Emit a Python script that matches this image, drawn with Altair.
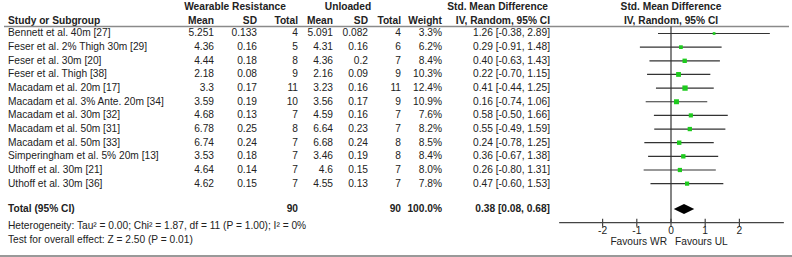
import altair as alt
import pandas as pd

# ---------------- data ----------------
studies = ["Bennett et al. 40m [27]", "Feser et al. 2% Thigh 30m [29]", "Feser et al. 30m [20]",
           "Feser et al. Thigh [38]", "Macadam et al. 20m [17]", "Macadam et al. 3% Ante. 20m [34]",
           "Macadam et al. 30m [32]", "Macadam et al. 50m [31]", "Macadam et al. 50m [33]",
           "Simperingham et al. 5% 20m [13]", "Uthoff et al. 30m [21]", "Uthoff et al. 30m [36]"]
wr_mean = [5.251, 4.36, 4.44, 2.18, 3.3, 3.59, 4.68, 6.78, 6.74, 3.53, 4.64, 4.62]
wr_sd = [0.133, 0.16, 0.18, 0.08, 0.17, 0.19, 0.13, 0.25, 0.24, 0.18, 0.14, 0.15]
wr_n = [4, 5, 8, 9, 11, 10, 7, 8, 7, 7, 7, 7]
ul_mean = [5.091, 4.31, 4.36, 2.16, 3.23, 3.56, 4.59, 6.64, 6.68, 3.46, 4.6, 4.55]
ul_sd = [0.082, 0.16, 0.2, 0.09, 0.16, 0.17, 0.16, 0.23, 0.24, 0.19, 0.15, 0.13]
ul_n = [4, 6, 7, 9, 11, 9, 7, 7, 8, 8, 7, 7]
weight = [3.3, 6.2, 8.4, 10.3, 12.4, 10.9, 7.6, 8.2, 8.5, 8.4, 8.0, 7.8]
smd = [1.26, 0.29, 0.40, 0.22, 0.41, 0.16, 0.58, 0.55, 0.24, 0.36, 0.26, 0.47]
ci_lo = [-0.38, -0.91, -0.63, -0.70, -0.44, -0.74, -0.50, -0.49, -0.78, -0.67, -0.80, -0.60]
ci_hi = [2.89, 1.48, 1.43, 1.15, 1.25, 1.06, 1.66, 1.59, 1.25, 1.38, 1.31, 1.53]

total_wr_n = 90
total_ul_n = 90
total_weight = "100.0%"
total_smd, total_lo, total_hi = 0.38, 0.08, 0.68
heterogeneity = "Heterogeneity: Tau\u00b2 = 0.00; Chi\u00b2 = 1.87, df = 11 (P = 1.00); I\u00b2 = 0%"
overall = "Test for overall effect: Z = 2.50 (P = 0.01)"
tick_values = [-2, -1, 0, 1, 2]
favours_left = "Favours WR"
favours_right = "Favours UL"

df = pd.DataFrame({
    "study": studies,
    "wr_mean": [str(v) for v in wr_mean],
    "wr_sd": [str(v) for v in wr_sd],
    "wr_n": [str(v) for v in wr_n],
    "ul_mean": [str(v) for v in ul_mean],
    "ul_sd": [str(v) for v in ul_sd],
    "ul_n": [str(v) for v in ul_n],
    "weight": weight,
    "weight_txt": [f"{w:.1f}%" for w in weight],
    "smd": smd, "lo": ci_lo, "hi": ci_hi,
    "ci_txt": [f"{s:.2f} [{l:.2f}, {h:.2f}]" for s, l, h in zip(smd, ci_lo, ci_hi)],
    "row": list(range(len(studies))),
})

# ---------------- layout (row units) ----------------
ROW_HDR1, ROW_HDR2, ROW_HLINE = -1.96, -0.94, -0.51
ROW_TOTAL, ROW_HET, ROW_TEST = 12.86, 14.1, 15.13
ROW_AXIS, ROW_TICK_TOP, ROW_TICK_BOT = 13.86, 13.57, 14.15
ROW_TICKLBL, ROW_FAV, ROW_BOTTOM = 14.47, 15.25, 16.3
DIAMOND_H = 0.37
AXIS_LO, AXIS_HI = -3.27, 3.3

FONT = "Liberation Sans"
FS = 10.2
TXT = "#222222"

xscale = alt.Scale(domain=[-19.62, 3.538], nice=False, zero=False)
yscale = alt.Scale(domain=[-2.454, 16.374], nice=False, zero=False, reverse=True)


def one(row, **kw):
    d = {"row": [row]}
    d.update({k: [v] for k, v in kw.items()})
    return pd.DataFrame(d)


def ytxt():
    return alt.Y("row:Q", scale=yscale, axis=None)


def col(data, field, xpx, align, bold=False):
    return alt.Chart(data).mark_text(
        align=align, baseline="middle", font=FONT, fontSize=FS,
        fontWeight="bold" if bold else "normal", color=TXT
    ).encode(x=alt.value(xpx), y=ytxt(), text=alt.Text(f"{field}:N"))


layers = []

# header texts
hdr1 = [("Wearable Resistance", 235, "center"), ("Unloaded", 348, "center"),
        ("Std. Mean Difference", 548, "right"), ("Std. Mean Difference", 671, "center")]
hdr2 = [("Study or Subgroup", 8, "left"), ("Mean", 214, "right"), ("SD", 257, "right"),
        ("Total", 298, "right"), ("Mean", 333, "right"), ("SD", 368, "right"),
        ("Total", 401, "right"), ("Weight", 442, "right"),
        ("IV, Random, 95% CI", 550, "right"), ("IV, Random, 95% CI", 671, "center")]
for t, xp, al in hdr1:
    layers.append(col(one(ROW_HDR1, t=t), "t", xp, al, bold=True))
for t, xp, al in hdr2:
    layers.append(col(one(ROW_HDR2, t=t), "t", xp, al, bold=True))

# header and bottom lines
layers.append(alt.Chart(one(ROW_HLINE)).mark_rule(color="#8a8a8a", strokeWidth=1.6).encode(
    x=alt.value(4), x2=alt.value(789), y=alt.Y("row:Q", scale=yscale, axis=None)))
layers.append(alt.Chart(one(ROW_BOTTOM)).mark_rule(color="#777777", strokeWidth=1.6).encode(
    x=alt.value(0), x2=alt.value(792), y=alt.Y("row:Q", scale=yscale, axis=None)))

# study rows text
for field, xp, al in [("study", 8, "left"), ("wr_mean", 214, "right"), ("wr_sd", 257, "right"),
                      ("wr_n", 298, "right"), ("ul_mean", 333, "right"), ("ul_sd", 368, "right"),
                      ("ul_n", 401, "right"), ("weight_txt", 442, "right"), ("ci_txt", 550, "right")]:
    layers.append(col(df, field, xp, al))

# total row
for t, xp, al in [("Total (95% CI)", 8, "left"), (str(total_wr_n), 298, "right"),
                  (str(total_ul_n), 401, "right"), (total_weight, 442, "right"),
                  (f"{total_smd:.2f} [{total_lo:.2f}, {total_hi:.2f}]", 550, "right")]:
    layers.append(col(one(ROW_TOTAL, t=t), "t", xp, al, bold=True))
layers.append(col(one(ROW_HET, t=heterogeneity), "t", 8, "left"))
layers.append(col(one(ROW_TEST, t=overall), "t", 8, "left"))

# forest: zero line
layers.append(alt.Chart(pd.DataFrame({"x": [0], "r1": [ROW_HLINE], "r2": [ROW_AXIS]})).mark_rule(
    color="#333333", strokeWidth=1.2).encode(
    x=alt.X("x:Q", scale=xscale, axis=None),
    y=alt.Y("r1:Q", scale=yscale, axis=None), y2="r2:Q"))

# CI lines
layers.append(alt.Chart(df).mark_rule(color="#333333", strokeWidth=1.2).encode(
    x=alt.X("lo:Q", scale=xscale, axis=None), x2="hi:Q",
    y=alt.Y("row:Q", scale=yscale, axis=None)))

# squares
layers.append(alt.Chart(df).mark_square(color="#1ecb1e", opacity=1).encode(
    x=alt.X("smd:Q", scale=xscale, axis=None),
    y=alt.Y("row:Q", scale=yscale, axis=None),
    size=alt.Size("weight:Q", scale=alt.Scale(domain=[0, 12.4], range=[0, 28]), legend=None)))

# diamond
diamond = pd.DataFrame({
    "x": [total_lo, total_smd, total_hi],
    "y1": [ROW_TOTAL, ROW_TOTAL - DIAMOND_H, ROW_TOTAL],
    "y2": [ROW_TOTAL, ROW_TOTAL + DIAMOND_H, ROW_TOTAL],
})
layers.append(alt.Chart(diamond).mark_area(color="black", orient="vertical", opacity=1).encode(
    x=alt.X("x:Q", scale=xscale, axis=None),
    y=alt.Y("y1:Q", scale=yscale, axis=None), y2="y2:Q"))

# axis line
layers.append(alt.Chart(pd.DataFrame({"a": [AXIS_LO], "b": [AXIS_HI], "row": [ROW_AXIS]})).mark_rule(
    color="#444444", strokeWidth=1.2).encode(
    x=alt.X("a:Q", scale=xscale, axis=None), x2="b:Q",
    y=alt.Y("row:Q", scale=yscale, axis=None)))

ticks = pd.DataFrame({"t": tick_values, "lbl": [str(v) for v in tick_values],
                      "r1": [ROW_TICK_TOP] * 5, "r2": [ROW_TICK_BOT] * 5, "row": [ROW_TICKLBL] * 5})
layers.append(alt.Chart(ticks).mark_rule(color="#444444", strokeWidth=1.2).encode(
    x=alt.X("t:Q", scale=xscale, axis=None),
    y=alt.Y("r1:Q", scale=yscale, axis=None), y2="r2:Q"))
layers.append(alt.Chart(ticks).mark_text(font=FONT, fontSize=FS, color=TXT, baseline="middle",
                                         align="center").encode(
    x=alt.X("t:Q", scale=xscale, axis=None), y=ytxt(), text="lbl:N"))

fav = pd.DataFrame({"row": [ROW_FAV]})
layers.append(alt.Chart(fav).mark_text(font=FONT, fontSize=FS, color=TXT, baseline="middle",
                                       align="right", text=favours_left, dx=-4).encode(
    x=alt.datum(0, scale=xscale), y=ytxt()))
layers.append(alt.Chart(fav).mark_text(font=FONT, fontSize=FS, color=TXT, baseline="middle",
                                       align="left", text=favours_right, dx=4).encode(
    x=alt.datum(0, scale=xscale), y=ytxt()))

chart = alt.layer(*layers).properties(
    width=792, height=257, autosize=alt.AutoSizeParams(type="none"), padding=0,
    background="white"
).configure_view(stroke=None)

chart.save("out.html", embed_options={"renderer": "svg", "actions": False})
